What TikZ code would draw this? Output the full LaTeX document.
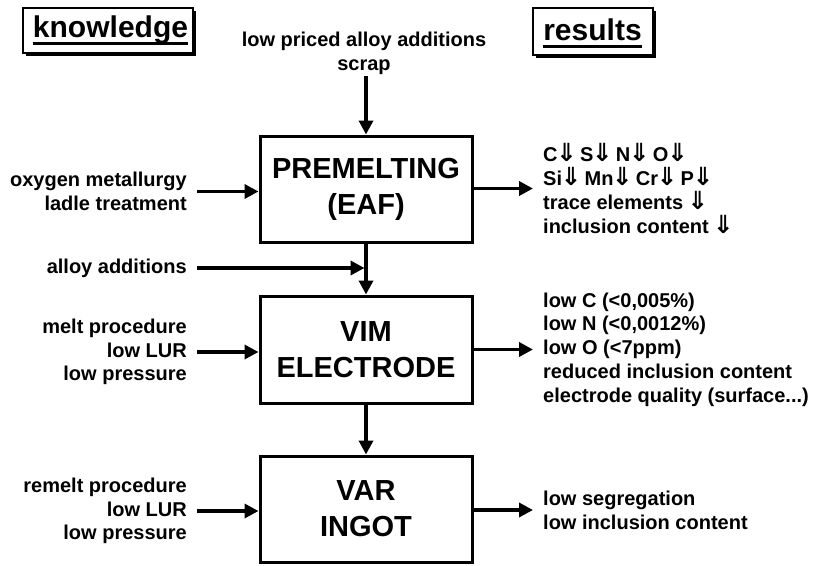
\documentclass[tikz,border=0pt]{standalone}
\usepackage{fontspec}
\setmainfont{Liberation Sans}
\newfontfamily\symfont{DejaVu Sans}
\usetikzlibrary{arrows.meta}

% bold double down arrow used in the results column, with tightened side bearings
\newcommand{\dn}{{\kern-1.5pt\symfont\bfseries\fontsize{25}{23.7}\selectfont ⇓\kern-2.5pt}}

\begin{document}
\begin{tikzpicture}[x=1pt,y=-1pt,
  lbl/.style={font=\bfseries\fontsize{20}{23.7}\selectfont, inner sep=0pt},
  procbox/.style={draw, line width=3pt, minimum width=212pt, minimum height=106pt,
    align=center, font=\bfseries\fontsize{29}{36}\selectfont},
  headbox/.style={draw, line width=2pt, fill=white, inner sep=0pt},
  headtext/.style={font=\bfseries\fontsize{30}{30}\selectfont, inner sep=0pt},
  uline/.style={line width=2.6pt},
  arr/.style={line width=3.5pt, -{Triangle[length=14pt,width=14pt]}}]

\useasboundingbox (0,0) rectangle (814,565);

% header boxes with a solid offset shadow
\fill (26,11) rectangle (196,56);
\node[headbox, minimum width=170pt, minimum height=45pt] (kbox) at (108,30.5) {};
\node[headtext] (ktext) at (110.5,30) {knowledge};
\draw[uline] ([yshift=-6pt]ktext.base west) -- ([yshift=-6pt]ktext.base east);

\fill (536,11) rectangle (656,58);
\node[headbox, minimum width=120pt, minimum height=47pt] (rbox) at (593,31.5) {};
\node[headtext] (rtext) at (592.5,30) {results};
\draw[uline] ([yshift=-6pt]rtext.base west) -- ([yshift=-6pt]rtext.base east);

% process chain
\node[procbox] (eaf) at (366,189) {PREMELTING\\(EAF)};
\node[procbox, minimum height=107pt] (vim) at (366,349.5) {VIM\\ELECTRODE};
\node[procbox] (var) at (366,509) {VAR\\INGOT};

% inputs
\node[lbl, align=center, inner sep=2pt] (feed) at (364,53) {low priced alloy additions\\scrap};
\node[lbl, align=right, anchor=east] (kEAF) at (187,191.5) {oxygen metallurgy\\ladle treatment};
\node[lbl, anchor=east] (alloy) at (187,268) {alloy additions};
\node[lbl, align=right, anchor=east] (kVIM) at (187,352) {melt procedure\\low LUR\\low pressure};
\node[lbl, align=right, anchor=east] (kVAR) at (187,511) {remelt procedure\\low LUR\\low pressure};

% results
\node[lbl, align=left, anchor=west] (rEAF) at (543,188.5)
  {C\dn{} S\dn{} N\dn{} O\dn\\Si\dn{} Mn\dn{} Cr\dn{} P\dn\\trace elements \dn\\inclusion content \dn};
\node[lbl, align=left, anchor=west] (rVIM) at (543,349.5)
  {low C (<0,005\%)\\low N (<0,0012\%)\\low O (<7ppm)\\reduced inclusion content\\electrode quality (surface...)};
\node[lbl, align=left, anchor=west] (rVAR) at (543,510)
  {low segregation\\low inclusion content};

% connectors
\draw[arr] (feed.south -| eaf.north) -- (eaf.north);
\draw[arr] (eaf.south) -- (vim.north);
\draw[arr] (vim.south) -- (var.north);
\draw[arr, shorten >=1.5pt] ([xshift=10pt]alloy.east) -- (alloy.east -| eaf.south);

\draw[arr] ([xshift=10pt]kEAF.east) -- (kEAF.east -| eaf.west);
\draw[arr] ([xshift=10pt]kVIM.east) -- (kVIM.east -| vim.west);
\draw[arr] ([xshift=10pt]kVAR.east) -- (kVAR.east -| var.west);

\draw[arr] (rEAF.west -| eaf.east) -- ([xshift=-10pt]rEAF.west);
\draw[arr] (rVIM.west -| vim.east) -- ([xshift=-10pt]rVIM.west);
\draw[arr] (rVAR.west -| var.east) -- ([xshift=-10pt]rVAR.west);
\end{tikzpicture}
\end{document}
